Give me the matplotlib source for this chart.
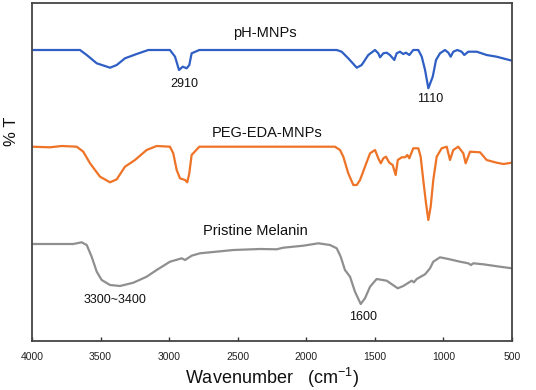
import matplotlib
matplotlib.use("Agg")
import matplotlib.pyplot as plt

# Wavenumber (cm-1) and relative transmittance (arbitrary, offset) for each spectrum
ph_wn = [4000, 3650, 3601, 3528, 3431, 3382, 3322, 3237, 3152, 2994, 2957, 2928, 2901, 2872,
         2853, 2836, 2780, 1778, 1742, 1694, 1632, 1596, 1548, 1499, 1475, 1462, 1438, 1414,
         1390, 1358, 1341, 1317, 1293, 1273, 1249, 1220, 1183, 1158, 1134, 1110, 1078, 1054,
         1025, 989, 964, 947, 928, 899, 867, 848, 819, 757, 685, 612, 500]
ph_t = [291, 291, 286, 277.7, 273.3, 276, 282.7, 287, 291, 291, 284.3, 271, 274.3, 272.7,
        276, 287.7, 291, 291, 289.3, 282.7, 273.3, 276, 286, 291, 287.7, 283.7, 287.7, 288.3,
        286, 281, 287.7, 289.3, 287, 288.3, 286, 291, 291, 284.3, 271, 252.7, 264.3, 281,
        287.7, 291, 288.3, 284.3, 289.3, 291, 289.3, 286, 289.3, 289.3, 286, 284.3, 280.3]

peg_wn = [4000, 3869, 3783, 3674, 3626, 3577, 3504, 3431, 3382, 3322, 3249, 3164, 3091, 2994,
          2970, 2945, 2921, 2884, 2868, 2853, 2836, 2780, 1791, 1754, 1730, 1694, 1657, 1632,
          1608, 1572, 1535, 1499, 1475, 1457, 1438, 1419, 1395, 1370, 1348, 1333, 1304, 1280,
          1263, 1249, 1220, 1183, 1166, 1147, 1127, 1110, 1093, 1074, 1049, 1013, 976, 952,
          928, 892, 855, 838, 806, 733, 685, 612, 563, 500]
peg_t = [194.3, 193.7, 195, 194.3, 189.3, 177.7, 164.3, 158.7, 161.7, 174.3, 181, 191, 195, 194.3,
         187.7, 171, 162.7, 161, 158.7, 167.7, 186, 194.3, 194.3, 191, 184.3, 167.7, 156, 156,
         161, 174.3, 187.7, 191, 182.7, 177.7, 182.7, 184.3, 178.3, 176, 166, 181, 183.7, 183.7,
         186, 182.7, 192.7, 192.7, 184.3, 161, 137.7, 121, 134.3, 161, 184.3, 192.7, 194.3, 181,
         191, 194.3, 187.7, 177.7, 189.3, 188.7, 181, 178.3, 177, 178.3]

mel_wn = [4000, 3699, 3638, 3601, 3565, 3528, 3492, 3431, 3358, 3261, 3164, 3091, 2994, 2908,
          2884, 2836, 2775, 2532, 2337, 2216, 2168, 2022, 1912, 1827, 1778, 1749, 1718, 1681,
          1645, 1603, 1572, 1535, 1487, 1414, 1333, 1293, 1231, 1215, 1195, 1134, 1098, 1074,
          1025, 964, 879, 819, 799, 782, 709, 588, 500]
mel_t = [97, 97, 98.7, 96, 84.3, 69.3, 61, 56, 55, 58.3, 64.3, 71, 79.3, 82.7,
         81, 85.3, 87.7, 91, 92, 91.7, 93.3, 95.3, 97.7, 96, 92.7, 84.3, 71, 64.3,
         49.3, 37, 42.7, 54.3, 62, 60.3, 52.7, 55, 60.3, 58.7, 62, 66.7, 72.7, 79.3,
         83.7, 82, 79.3, 77.7, 76, 77.7, 76.7, 74.3, 72.7]

series_names = ["pH-MNPs", "PEG-EDA-MNPs", "Pristine Melanin"]
name_pos = [(2301, 308), (2286, 208), (2374, 110)]
peak_labels = ["2910", "1110", "3300~3400", "1600"]
peak_pos = [(2892, 257), (1098, 242), (3395, 41), (1586, 24)]
x_ticks = [4000, 3500, 3000, 2500, 2000, 1500, 1000, 500]

plt.rcParams['mathtext.fontset'] = 'custom'
plt.rcParams['mathtext.rm'] = 'Liberation Sans'
plt.rcParams['font.family'] = ['Liberation Sans', 'DejaVu Sans']

fig = plt.figure(figsize=(5.36, 3.90), dpi=100)
ax = fig.add_axes([32/536, 49/390, 480/536, 338/390])

ax.plot(ph_wn, ph_t, color='#2f5fc4', lw=1.6, solid_joinstyle='round')
ax.plot(peg_wn, peg_t, color='#ee7326', lw=1.6, solid_joinstyle='round')
ax.plot(mel_wn, mel_t, color='#8f8f8f', lw=1.6, solid_joinstyle='round')

for name, (x, y) in zip(series_names, name_pos):
    ax.text(x, y, name, ha='center', va='center', fontsize=10.5, color='#111111')
for lab, (x, y) in zip(peak_labels, peak_pos):
    ax.text(x, y, lab, ha='center', va='center', fontsize=9, color='#111111')

ax.set_xlim(4000, 500)
ax.set_ylim(0, 338)
ax.set_xticks(x_ticks)
ax.set_xticklabels([str(t) for t in x_ticks], fontsize=7.5, color='#222222')
ax.tick_params(axis='x', direction='in', length=3, width=1, color='#333333', pad=8)
ax.set_yticks([])
for s in ax.spines.values():
    s.set_color('#444444')
    s.set_linewidth(1.3)

ax.set_xlabel(r"Wavenumber   (cm$^{\mathregular{-1}}$)", fontsize=13, labelpad=3, color='#111111')
fig.text(11/536, 1 - 131/390, "% T", rotation=90, ha='center', va='center', fontsize=12,
         color='#111111')

fig.savefig("out.png", dpi=100)
